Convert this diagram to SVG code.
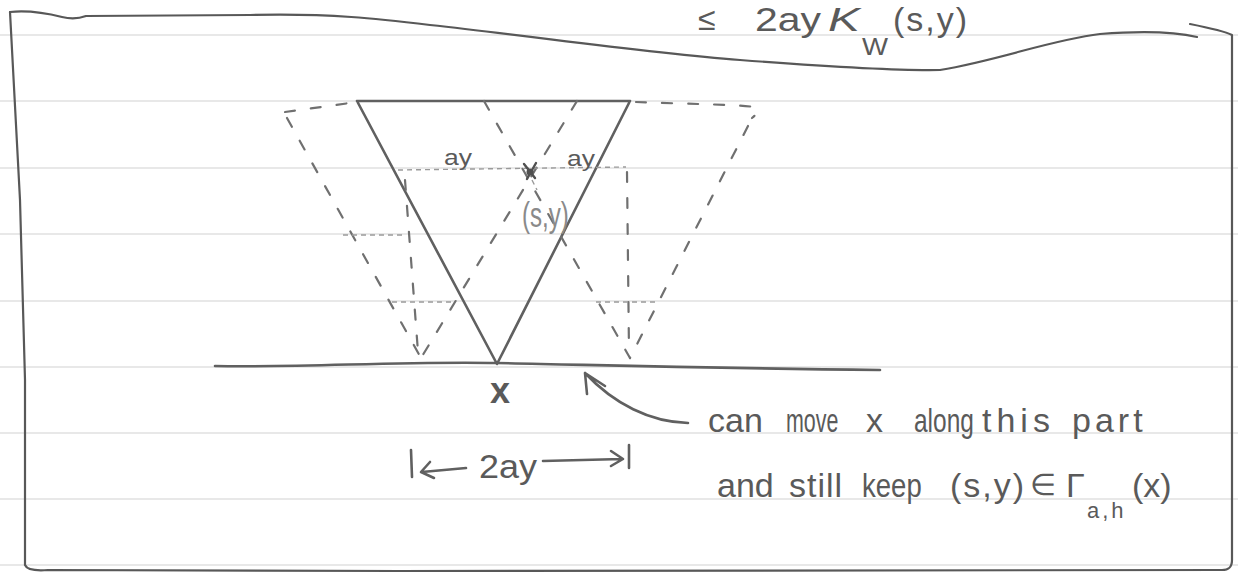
<svg xmlns="http://www.w3.org/2000/svg" width="1238" height="573" viewBox="0 0 1238 573">
<style>
.rule{stroke:#e8e8e8;stroke-width:2;fill:none}
.ink{stroke:#606060;stroke-width:2.6;fill:none;stroke-linecap:round;stroke-linejoin:round}
.frame{stroke:#585858;stroke-width:2.2;fill:none;stroke-linecap:round;stroke-linejoin:round}
.dash{stroke:#707070;stroke-width:2.2;fill:none;stroke-dasharray:10 16;stroke-linecap:round}
.faint{stroke:#9a9a9a;stroke-width:1.4;fill:none;stroke-dasharray:5 4}
.hw{font-family:"Liberation Sans",sans-serif;fill:#5a5a5a;font-size:34px}
.lt{fill:#8a8a8a}
</style>
<rect width="1238" height="573" fill="#ffffff"/>
<g id="paper">
<line class="rule" x1="0" y1="35" x2="1238" y2="35"/>
<line class="rule" x1="0" y1="101" x2="1238" y2="101"/>
<line class="rule" x1="0" y1="168" x2="1238" y2="168"/>
<line class="rule" x1="0" y1="234" x2="1238" y2="234"/>
<line class="rule" x1="0" y1="301" x2="1238" y2="301"/>
<line class="rule" x1="0" y1="367" x2="1238" y2="367"/>
<line class="rule" x1="0" y1="433" x2="1238" y2="433"/>
<line class="rule" x1="0" y1="499" x2="1238" y2="499"/>
<line class="rule" x1="0" y1="565" x2="1238" y2="565"/>
</g>
<g id="frame">
<path class="frame" d="M10,12 C30,10 50,14 62,17 C70,19 78,19 86,16 L250,15 C330,13 380,19 430,25 C540,37 640,52 740,60 C820,66 900,71 940,70 C1000,60 1050,40 1100,34 C1150,30 1180,33 1197,37"/>
<path class="frame" d="M1190,24 C1210,28 1224,31 1232,35 L1232,560 C1232,568 1228,570 1222,570"/>
<path class="frame" d="M10,12 L20,200 L25,380 L25,565 C27,570 35,571 48,570 L400,571 L1222,570"/>
</g>
<g id="top-label">
<text class="hw" x="698" y="30" style="font-size:32px">≤</text>
<text class="hw" x="755" y="31" textLength="66" lengthAdjust="spacingAndGlyphs">2ay</text>
<text class="hw" x="828" y="31" font-style="italic" textLength="32" lengthAdjust="spacingAndGlyphs">K</text>
<text class="hw" x="862" y="55" style="font-size:24px" textLength="26" lengthAdjust="spacingAndGlyphs">W</text>
<text class="hw" x="893" y="31" textLength="74" lengthAdjust="spacing">(s,y)</text>
</g>
<g id="ground">
<path class="ink" d="M215,366 C300,368 400,361 497,363 C600,365 700,368 880,370"/>
</g>
<g id="cone">
<path class="ink" d="M357,101 L630,101 M357,101 L497,364 L630,101"/>
</g>
<g id="shifted-cones">
<path class="dash" d="M285,112 L357,102"/>
<path class="dash" d="M287,118 L421,358"/>
<path class="dash" d="M577,101 L421,358"/>
<path class="dash" d="M484,101 L630,358"/>
<path class="dash" d="M636,102 C680,104 730,104 755,107 C760,110 757,114 752,118"/>
<path class="dash" d="M748,126 L630,358"/>
<path class="dash" d="M405,180 L418,352" stroke-dasharray="18 14"/>
<path class="dash" d="M627,172 L629,352" stroke-dasharray="22 12"/>
<path class="faint" d="M398,170 L626,167"/>
<path class="faint" d="M343,235 L406,235"/>
<path class="faint" d="M392,302 L455,302"/>
<path class="faint" d="M596,302 L655,302"/>
</g>
<g id="point">
<path stroke="#505050" stroke-width="2.4" fill="none" stroke-linecap="round" d="M524,164 L535,178 M536,163 L527,179"/>
<circle cx="530" cy="172" r="3.5" fill="#505050"/>
<path class="faint" d="M532,180 L537,190"/>
<text class="hw" x="444" y="165" style="font-size:22px" textLength="28" lengthAdjust="spacingAndGlyphs">ay</text>
<text class="hw" x="567" y="166" style="font-size:22px" textLength="28" lengthAdjust="spacingAndGlyphs">ay</text>
<text class="hw lt" transform="translate(522 227) scale(0.67 1)" style="font-size:36px">(s,y)</text>
</g>
<g id="x-label">
<text class="hw" x="490" y="403" style="font-size:36px" font-weight="bold">x</text>
</g>
<g id="width-label">
<path class="ink" stroke-width="3" d="M411,450 L412,477 M466,468 L422,472 M430,462 L421,472 L434,478"/>
<text class="hw" x="479" y="478" textLength="58" lengthAdjust="spacingAndGlyphs">2ay</text>
<path class="ink" stroke-width="3" d="M543,461 L622,459 M611,451 L623,459 L611,466 M629,445 L629,468"/>
</g>
<g id="connectors">
<path class="ink" d="M688,423 C650,422 614,404 585,373 M585,373 L587,394 M585,373 L605,386"/>
</g>
<g id="note">
<text class="hw" x="708" y="432">can</text>
<text class="hw" transform="translate(786 432) scale(0.63 1)">move</text>
<text class="hw" x="866" y="432">x</text>
<text class="hw" transform="translate(914 432) scale(0.72 1)">along</text>
<text class="hw" x="982" y="432" letter-spacing="5">this</text>
<text class="hw" x="1072" y="432" letter-spacing="4">part</text>
<text class="hw" x="717" y="497">and</text>
<text class="hw" x="789" y="497" letter-spacing="1">still</text>
<text class="hw" transform="translate(862 497) scale(0.81 1)">keep</text>
<text class="hw" x="950" y="497" letter-spacing="2">(s,y)</text>
<text class="hw" x="1030" y="495" style="font-size:30px">∈</text>
<text class="hw" x="1066" y="497">Γ</text>
<text class="hw" x="1087" y="518" style="font-size:22px" letter-spacing="3">a,h</text>
<text class="hw" x="1132" y="497">(x)</text>
</g>
</svg>
